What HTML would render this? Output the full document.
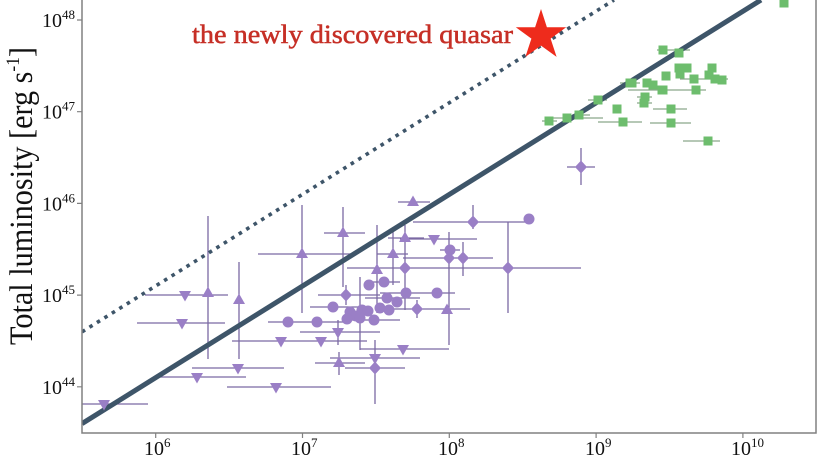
<!DOCTYPE html>
<html><head><meta charset="utf-8"><style>
html,body{margin:0;padding:0;background:#fff;}
svg{display:block;}
text{font-family:"Liberation Serif",serif;}
</style></head><body>
<svg width="828" height="466" viewBox="0 0 828 466" xmlns="http://www.w3.org/2000/svg">
<defs>
<clipPath id="clip"><rect x="82" y="0" width="734" height="433"/></clipPath>
<circle id="c" r="5.5"/>
<polygon id="u" points="0,-6.5 6,4 -6,4"/>
<polygon id="v" points="0,6.5 6,-4 -6,-4"/>
<polygon id="d" points="0,-6.5 6,0 0,6.5 -6,0"/>
<rect id="s" x="-4.5" y="-4.5" width="9" height="9"/>
</defs>
<rect width="828" height="466" fill="#fff"/>
<g clip-path="url(#clip)">
<path fill="none" stroke="#8aa88a" stroke-width="1.3" d="M657 50H690M542 121H557M548 118H603M572 115H590M588 100H607M598 122H642M637 97H652M637 103H652M628 90H700M680 79H706M686 90H706M700 79H728M653 109H687M650 123H691M683 141H720M620 83H640"/>
<path fill="none" stroke="#7b69a3" stroke-width="1.3" d="M82 404H148M145 295H228M208 216V359M137 323H225M239 262V359M192 368H284M160 377H246M227 387H331M258 254H352M302 205V313M268 322H345M232 341H320M293 341H367M300 332H380M338 320V345M310 307H360M318 295H380M346 285V305M315 363H365M339 352V375M330 358H420M345 368H405M375 340V404M360 349H449M324 233H365M343 207V287M398 202H430M388 238H424M400 239H477M413 222H529M473 205V229M440 250H460M449 232V345M403 258H493M463 242V276M377 254H408M393 230V285M347 268H440M405 225V310M435 268H581M508 222V313M377 225V313M365 282H400M380 293H455M365 298H420M360 277V350M380 309H440M417 300V318M420 309H470M350 320H400M567 167H595M581 148V185"/>
<line x1="82" y1="331.9" x2="614" y2="0" stroke="#3e5569" stroke-width="3.6" stroke-dasharray="3.6 5.2"/>
<line x1="82" y1="423.6" x2="761" y2="0" stroke="#3e5569" stroke-width="5"/>
<g fill="#6dbd6d">
<use href="#s" x="784" y="3"/><use href="#s" x="663" y="50"/><use href="#s" x="679" y="53"/>
<use href="#s" x="549" y="121"/><use href="#s" x="567" y="118"/><use href="#s" x="579" y="115"/>
<use href="#s" x="598" y="100"/><use href="#s" x="617" y="109"/><use href="#s" x="623" y="122"/>
<use href="#s" x="632" y="83"/><use href="#s" x="645" y="97"/><use href="#s" x="644" y="103"/>
<use href="#s" x="647" y="83"/><use href="#s" x="653" y="85"/><use href="#s" x="662" y="90"/>
<use href="#s" x="666" y="76"/><use href="#s" x="679" y="68"/><use href="#s" x="687" y="68"/>
<use href="#s" x="680" y="74"/><use href="#s" x="694" y="79"/><use href="#s" x="696" y="90"/>
<use href="#s" x="712" y="68"/><use href="#s" x="709" y="75"/><use href="#s" x="715" y="79"/>
<use href="#s" x="722" y="80"/><use href="#s" x="671" y="109"/><use href="#s" x="671" y="123"/>
<use href="#s" x="708" y="141"/><use href="#s" x="663" y="90"/><use href="#s" x="630" y="83"/>
</g>
<g fill="#9a7fc6">
<use href="#v" x="104" y="404"/><use href="#v" x="185" y="295"/><use href="#u" x="208" y="293"/>
<use href="#v" x="182" y="323"/><use href="#u" x="239" y="300"/><use href="#v" x="238" y="368"/>
<use href="#v" x="197" y="377"/><use href="#v" x="276" y="387"/><use href="#u" x="302" y="254"/>
<use href="#c" x="288" y="322"/><use href="#c" x="317" y="322"/><use href="#v" x="281" y="341"/>
<use href="#v" x="321" y="341"/><use href="#v" x="338" y="332"/><use href="#c" x="333" y="307"/>
<use href="#d" x="346" y="295"/><use href="#u" x="339" y="363"/><use href="#v" x="375" y="358"/>
<use href="#d" x="375" y="368"/><use href="#v" x="403" y="349"/><use href="#u" x="343" y="233"/>
<use href="#u" x="413" y="202"/><use href="#u" x="405" y="238"/><use href="#v" x="434" y="239"/>
<use href="#d" x="473" y="222"/><use href="#c" x="529" y="219"/><use href="#c" x="450" y="250"/>
<use href="#d" x="449" y="258"/><use href="#d" x="463" y="258"/><use href="#u" x="393" y="254"/>
<use href="#d" x="405" y="268"/><use href="#d" x="508" y="268"/><use href="#u" x="377" y="270"/>
<use href="#c" x="369" y="285"/><use href="#c" x="384" y="282"/><use href="#c" x="406" y="293"/>
<use href="#c" x="437" y="293"/><use href="#c" x="387" y="298"/><use href="#c" x="397" y="302"/>
<use href="#c" x="350" y="312"/><use href="#c" x="356" y="316"/><use href="#c" x="362" y="310"/>
<use href="#c" x="368" y="311"/><use href="#c" x="347" y="319"/><use href="#c" x="360" y="318"/>
<use href="#d" x="417" y="309"/><use href="#u" x="447" y="310"/><use href="#c" x="374" y="320"/>
<use href="#c" x="380" y="308"/><use href="#c" x="389" y="310"/><use href="#d" x="581" y="167"/>
</g>
</g>
<polygon fill="#ee2b1c" points="541,9 546.9,27.3 566.2,27.3 550.6,38.6 556.6,56.9 541,45.6 525.4,56.9 531.4,38.6 515.8,27.3 535.1,27.3"/>
<text x="192" y="43" font-size="26" fill="#c62f26" stroke="#c62f26" stroke-width="0.5" textLength="321" lengthAdjust="spacingAndGlyphs">the newly discovered quasar</text>
<path fill="none" stroke="#808080" stroke-width="1.5" d="M82 0V433H816V0"/>
<path fill="none" stroke="#808080" stroke-width="1.2" d="M77 20H82M77 111.7H82M77 203.4H82M77 295.1H82M77 386.8H82M155.7 433V438M302.5 433V438M449.3 433V438M596.1 433V438M742.9 433V438"/>
<g font-size="20" fill="#111">
<text x="42" y="27">10<tspan font-size="13" dy="-8">48</tspan></text>
<text x="42" y="118.7">10<tspan font-size="13" dy="-8">47</tspan></text>
<text x="42" y="210.4">10<tspan font-size="13" dy="-8">46</tspan></text>
<text x="42" y="302.1">10<tspan font-size="13" dy="-8">45</tspan></text>
<text x="42" y="393.8">10<tspan font-size="13" dy="-8">44</tspan></text>
<text x="144" y="455">10<tspan font-size="13" dy="-8">6</tspan></text>
<text x="291" y="455">10<tspan font-size="13" dy="-8">7</tspan></text>
<text x="438" y="455">10<tspan font-size="13" dy="-8">8</tspan></text>
<text x="585" y="455">10<tspan font-size="13" dy="-8">9</tspan></text>
<text x="731" y="455">10<tspan font-size="13" dy="-8">10</tspan></text>
</g>
<text transform="translate(32,196) rotate(-90)" text-anchor="middle" font-size="33" fill="#111" textLength="298" lengthAdjust="spacingAndGlyphs">Total luminosity [erg s<tspan font-size="19" dy="-13">-1</tspan><tspan dy="13">]</tspan></text>
</svg>
</body></html>
